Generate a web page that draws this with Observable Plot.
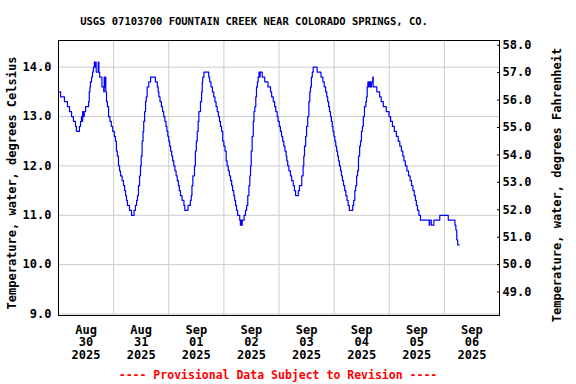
<!DOCTYPE html>
<html><head><meta charset="utf-8">
<script src="https://cdn.jsdelivr.net/npm/d3@7"></script>
<script src="https://cdn.jsdelivr.net/npm/@observablehq/plot@0.6"></script>
<style>html,body{margin:0;padding:0;background:#fff} svg{display:block}</style>
</head><body><div id="chart"></div>
<script>
const title = "USGS 07103700 FOUNTAIN CREEK NEAR COLORADO SPRINGS, CO.";
const footer = "---- Provisional Data Subject to Revision ----";
const yLabelLeft = "Temperature, water, degrees Celsius";
const yLabelRight = "Temperature, water, degrees Fahrenheit";
const startTime = "2025-08-30T00:00:00Z";
const endTime = "2025-09-07T00:00:00Z";
const dayNoons = ["2025-08-30T12:00:00Z","2025-08-31T12:00:00Z","2025-09-01T12:00:00Z","2025-09-02T12:00:00Z","2025-09-03T12:00:00Z","2025-09-04T12:00:00Z","2025-09-05T12:00:00Z","2025-09-06T12:00:00Z"];
const dayLabels = ["Aug\n30\n2025","Aug\n31\n2025","Sep\n01\n2025","Sep\n02\n2025","Sep\n03\n2025","Sep\n04\n2025","Sep\n05\n2025","Sep\n06\n2025"];
const celsiusTicks = [9, 10, 11, 12, 13, 14];
const fahrenheitTicks = [49, 50, 51, 52, 53, 54, 55, 56, 57, 58];

// hours since 2025-08-30 00:00 UTC and water temperature (deg C)
const hours = [0,0.9,2.6,3.9,4.8,5.7,6.5,7.4,7.8,9.1,9.6,10.0,10.3,10.5,10.9,11.2,11.8,13.1,13.4,13.7,13.9,14.4,14.8,15.2,15.6,15.9,16.1,16.4,17.3,17.6,17.9,18.9,19.7,19.9,20.2,20.4,20.6,20.9,21.3,21.8,22.4,23.0,23.6,
24.3,24.8,25.2,25.6,26.1,26.6,27.0,27.7,28.3,28.8,29.2,29.6,30.0,30.9,31.8,32.9,33.5,34.0,34.4,34.8,35.3,35.7,36.0,36.4,36.8,37.1,37.5,37.9,38.2,38.6,39.3,40.1,42.2,43.0,43.4,43.7,44.2,44.8,45.3,45.8,46.3,46.8,47.2,47.6,
48.0,48.4,48.8,49.3,49.7,50.2,50.7,51.2,51.7,52.2,52.6,53.1,53.8,54.6,55.0,56.4,57.4,57.8,58.1,58.5,59.2,59.6,60.0,60.4,60.8,61.1,61.8,62.3,62.6,62.8,63.3,65.4,65.8,66.4,67.0,67.6,68.1,68.6,69.1,69.6,70.1,70.5,71.0,71.5,
72.0,72.5,73.0,73.4,73.9,74.4,74.9,75.4,75.8,76.3,76.7,77.1,77.5,78.0,78.9,79.2,79.5,79.7,80.0,80.8,81.4,81.9,82.4,82.9,83.3,83.6,83.9,84.3,84.8,85.1,85.5,85.9,86.2,86.6,86.9,87.3,87.6,87.8,88.7,89.8,91.2,92.3,92.8,93.5,94.1,94.6,95.2,95.6,
96.1,96.6,97.1,97.6,98.1,98.6,99.1,99.4,99.8,100.3,101.0,101.5,102.2,102.7,103.2,104.4,104.9,105.9,106.5,106.8,107.1,107.6,108.0,108.5,109.0,109.4,109.7,110.1,110.5,110.9,112.6,114.3,115.1,115.7,116.3,116.8,117.2,117.6,118.0,118.4,118.8,119.2,119.5,119.9,
120.3,120.7,121.1,121.5,121.9,122.3,122.8,123.2,123.6,124.1,124.6,125.1,125.6,126.1,126.6,128.1,128.5,129.0,129.4,129.8,130.2,130.6,131.1,131.5,131.9,132.3,132.7,133.2,133.8,134.1,134.4,134.7,135.0,135.3,135.5,135.8,136.0,136.3,136.8,137.0,138.6,139.8,140.5,141.4,142.7,143.9,
144.6,145.4,146.2,147.1,147.9,148.6,149.3,149.9,150.4,151.0,151.7,152.4,153.1,153.7,154.3,154.9,155.4,155.8,156.3,156.9,157.6,161.4,161.6,162.3,163.4,166.0,169.7,172.6,173.0,173.4,173.8,174.4];
const tempC = [13.5,13.4,13.3,13.2,13.1,13.0,12.9,12.8,12.7,12.8,12.9,13.0,12.9,13.1,13.0,13.1,13.2,13.3,13.5,13.6,13.7,13.8,13.9,14.0,14.1,14.0,14.1,13.9,14.1,13.9,13.8,13.6,13.5,13.8,13.6,13.8,13.5,13.3,13.2,13.0,12.9,12.8,12.7,
12.6,12.5,12.3,12.2,12.0,11.9,11.8,11.7,11.6,11.5,11.4,11.3,11.2,11.1,11.0,11.1,11.2,11.3,11.4,11.6,11.8,12.0,12.2,12.5,12.7,12.9,13.1,13.3,13.4,13.6,13.7,13.8,13.7,13.6,13.5,13.4,13.3,13.2,13.1,13.0,12.9,12.8,12.7,12.6,
12.5,12.4,12.3,12.2,12.1,12.0,11.9,11.8,11.7,11.6,11.5,11.4,11.3,11.2,11.1,11.2,11.3,11.4,11.6,11.8,12.0,12.3,12.5,12.7,12.9,13.1,13.3,13.5,13.7,13.8,13.9,13.8,13.7,13.6,13.5,13.4,13.3,13.2,13.1,13.0,12.9,12.8,12.7,12.5,
12.4,12.3,12.1,12.0,11.9,11.8,11.7,11.6,11.5,11.4,11.3,11.2,11.1,11.0,10.9,10.8,10.9,10.8,10.9,11.0,11.1,11.2,11.4,11.6,11.8,12.0,12.3,12.6,12.9,13.1,13.2,13.4,13.6,13.7,13.8,13.9,13.8,13.9,13.8,13.7,13.6,13.5,13.4,13.3,13.2,13.1,13.0,12.9,
12.8,12.7,12.6,12.5,12.4,12.3,12.2,12.1,12.0,11.9,11.8,11.7,11.6,11.5,11.4,11.5,11.6,11.8,12.0,12.2,12.4,12.6,12.8,13.0,13.3,13.5,13.6,13.8,13.9,14.0,13.9,13.8,13.7,13.6,13.5,13.4,13.3,13.2,13.1,13.0,12.9,12.8,12.7,12.6,
12.5,12.4,12.3,12.2,12.1,12.0,11.9,11.8,11.7,11.6,11.5,11.4,11.3,11.2,11.1,11.2,11.3,11.5,11.6,11.8,11.9,12.2,12.4,12.5,12.7,12.8,13.0,13.2,13.3,13.4,13.6,13.7,13.6,13.7,13.6,13.7,13.6,13.7,13.8,13.6,13.5,13.4,13.3,13.2,13.1,13.0,
12.9,12.8,12.7,12.6,12.5,12.4,12.3,12.2,12.1,12.0,11.9,11.8,11.7,11.6,11.5,11.4,11.3,11.2,11.1,11.0,10.9,10.8,10.9,10.8,10.9,11.0,10.9,10.8,10.7,10.5,10.4,10.4];

const t0 = new Date(startTime);
const t1 = new Date(endTime);
const data = hours.map((h, i) => ({date: new Date(+t0 + h * 3600e3), temp: tempC[i]}));
const midnights = d3.utcDay.range(d3.utcDay.offset(t0, 1), t1);
const noonDates = dayNoons.map(d => new Date(d));
const labelByTime = new Map(noonDates.map((d, i) => [+d, dayLabels[i]]));
const f2c = f => (f - 32) / 1.8;
const fTicksC = fahrenheitTicks.map(f2c);
const font = "'DejaVu Sans Mono', monospace";

const chart = Plot.plot({
  width: 576, height: 384,
  marginLeft: 58, marginRight: 77, marginTop: 40, marginBottom: 69,
  style: {fontFamily: font, fontWeight: "bold", fontSize: "11.5px", background: "white", color: "black"},
  x: {type: "utc", domain: [t0, t1]},
  y: {domain: [8.97, 14.54]},
  marks: [
    Plot.gridX(midnights, {stroke: "#cccccc", strokeOpacity: 1}),
    Plot.gridY(celsiusTicks, {stroke: "#cccccc", strokeOpacity: 1}),
    Plot.lineY(data, {x: "date", y: "temp", stroke: "#0000ff", strokeWidth: 1.2, curve: "step-after"}),
    Plot.frame({stroke: "black"}),
    Plot.axisX(noonDates, {tickSize: 0, tickPadding: 9, tickFormat: d => labelByTime.get(+d), lineHeight: 1.07, fontSize: 12, label: null}),
    Plot.axisY(celsiusTicks, {anchor: "left", tickSize: 0, tickPadding: 7, tickFormat: d => d.toFixed(1), fontSize: 12, label: null}),
    Plot.axisY(fTicksC, {anchor: "right", tickSize: 3, dx: -3, tickFormat: () => "", label: null}),
    Plot.axisY(fTicksC, {anchor: "right", tickSize: 0, tickPadding: 3, tickFormat: c => (c * 1.8 + 32).toFixed(1), fontSize: 12, label: null}),
    Plot.text([yLabelLeft], {text: d => d, frameAnchor: "left", dx: -46, dy: 5, rotate: -90, textAnchor: "middle", lineAnchor: "middle", fontSize: 12}),
    Plot.text([yLabelRight], {text: d => d, frameAnchor: "right", dx: 58, dy: 7, rotate: -90, textAnchor: "middle", lineAnchor: "middle", fontSize: 12}),
    Plot.text([title], {text: d => d, frameAnchor: "top", dx: -25, dy: -19, textAnchor: "middle", lineAnchor: "middle", fontSize: 10.5}),
    Plot.text([footer], {text: d => d, frameAnchor: "bottom", dx: -1, dy: 60, textAnchor: "middle", lineAnchor: "middle", fontSize: 11.5, fill: "#ff0000"})
  ]
});
document.getElementById("chart").appendChild(chart);
</script>
</body></html>
